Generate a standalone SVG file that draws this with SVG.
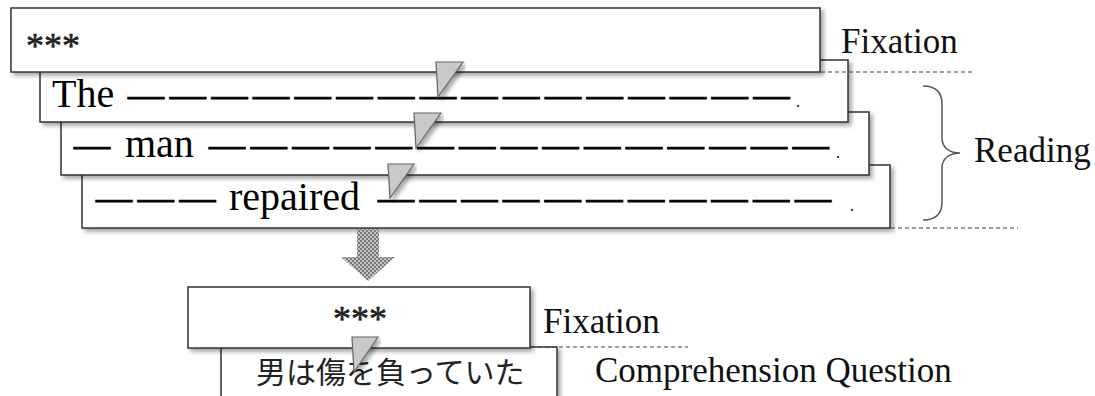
<svg xmlns="http://www.w3.org/2000/svg" width="1095" height="396" viewBox="0 0 1095 396">
<style>
.box{fill:#fff;stroke:#333;stroke-width:1.5;filter:url(#sh)}
.w{font-family:"Liberation Serif","Times New Roman",serif;font-size:40px;fill:#000}
.d{font-family:"Liberation Serif","Times New Roman",serif;font-size:36px;letter-spacing:5.7px;fill:#000;stroke:#000;stroke-width:1}
.p{font-family:"Liberation Serif",serif;font-size:16px;fill:#000}
.ast{font-family:"Liberation Serif",serif;font-size:36px;fill:#222;stroke:#222;stroke-width:0.6}
.lbl{font-family:"Liberation Serif","Times New Roman",serif;font-size:35px;fill:#111}
.jp{font-family:"Noto Sans CJK JP","Noto Sans CJK SC",sans-serif;font-size:30px;font-weight:400;fill:#222}
.tri{fill:#c9c9c9;stroke:#666;stroke-width:1.2;filter:url(#sh)}
.dash{stroke:#444;stroke-width:1.2;stroke-dasharray:4 3;fill:none}
</style>
<defs>
<filter id="sh" x="-10%" y="-20%" width="120%" height="150%">
<feDropShadow dx="3" dy="3" stdDeviation="2" flood-color="#000" flood-opacity="0.35"/>
</filter>
<pattern id="chk" width="4" height="4" patternUnits="userSpaceOnUse">
<rect width="4" height="4" fill="#c4c4c4"/>
<rect width="2" height="2" fill="#7a7a7a"/>
<rect x="2" y="2" width="2" height="2" fill="#7a7a7a"/>
</pattern>
</defs>
<rect width="1095" height="396" fill="#fff"/>

<g id="line3">
<rect class="box" x="82" y="165" width="808" height="63"/>
<text class="d" x="96" y="210">———</text>
<text class="w" x="229" y="210">repaired</text>
<text class="d" x="378" y="210">———————————</text>
<text class="p" x="850" y="211">.</text>
</g>
<g id="line2">
<rect class="box" x="61" y="112" width="808" height="63"/>
<text class="d" x="74" y="157">—</text>
<text class="w" x="125" y="157">man</text>
<text class="d" x="209" y="157">———————————————</text>
<text class="p" x="836" y="158">.</text>
</g>
<g id="line1">
<rect class="box" x="40" y="60" width="808" height="62"/>
<text class="w" x="52" y="107">The</text>
<text class="d" x="128" y="107">————————————————</text>
<text class="p" x="796" y="107">.</text>
</g>
<g id="fixation1">
<rect class="box" x="11" y="8" width="809" height="64"/>
<text class="ast" x="26" y="58">***</text>
</g>

<g id="pointers">
<polygon class="tri" points="436,62 463,62 438,97"/>
<polygon class="tri" points="414,113 441,113 416,148"/>
<polygon class="tri" points="388,164 414,164 390,198"/>
</g>

<g id="labels">
<text class="lbl" x="841" y="53">Fixation</text>
<text class="lbl" x="974" y="162">Reading</text>
<text class="lbl" x="543" y="333">Fixation</text>
<text class="lbl" x="595" y="382">Comprehension Question</text>
</g>

<g id="question">
<rect class="box" x="221" y="347" width="336" height="80"/>
<text class="jp" x="256" y="383">男は傷を負っていた</text>
</g>
<g id="fixation2">
<rect class="box" x="188" y="287" width="342" height="61"/>
<text class="ast" x="333" y="331">***</text>
</g>
<polygon class="tri" points="352,337 378,337 354,372"/>

<g id="connectors">
<path class="dash" d="M821,72H973"/>
<path class="dash" d="M891,228H1018"/>
<path class="dash" d="M531,347H688"/>
<path d="M923,86C935,86 942,92 942,104L942,138C942,148 950,153 960,153C950,153 942,158 942,168L942,202C942,214 935,220 923,220" fill="none" stroke="#555" stroke-width="1.5"/>
<polygon points="357,229 379,229 379,257 395,257 368,281 341,257 357,257" fill="url(#chk)"/>
</g>
</svg>
